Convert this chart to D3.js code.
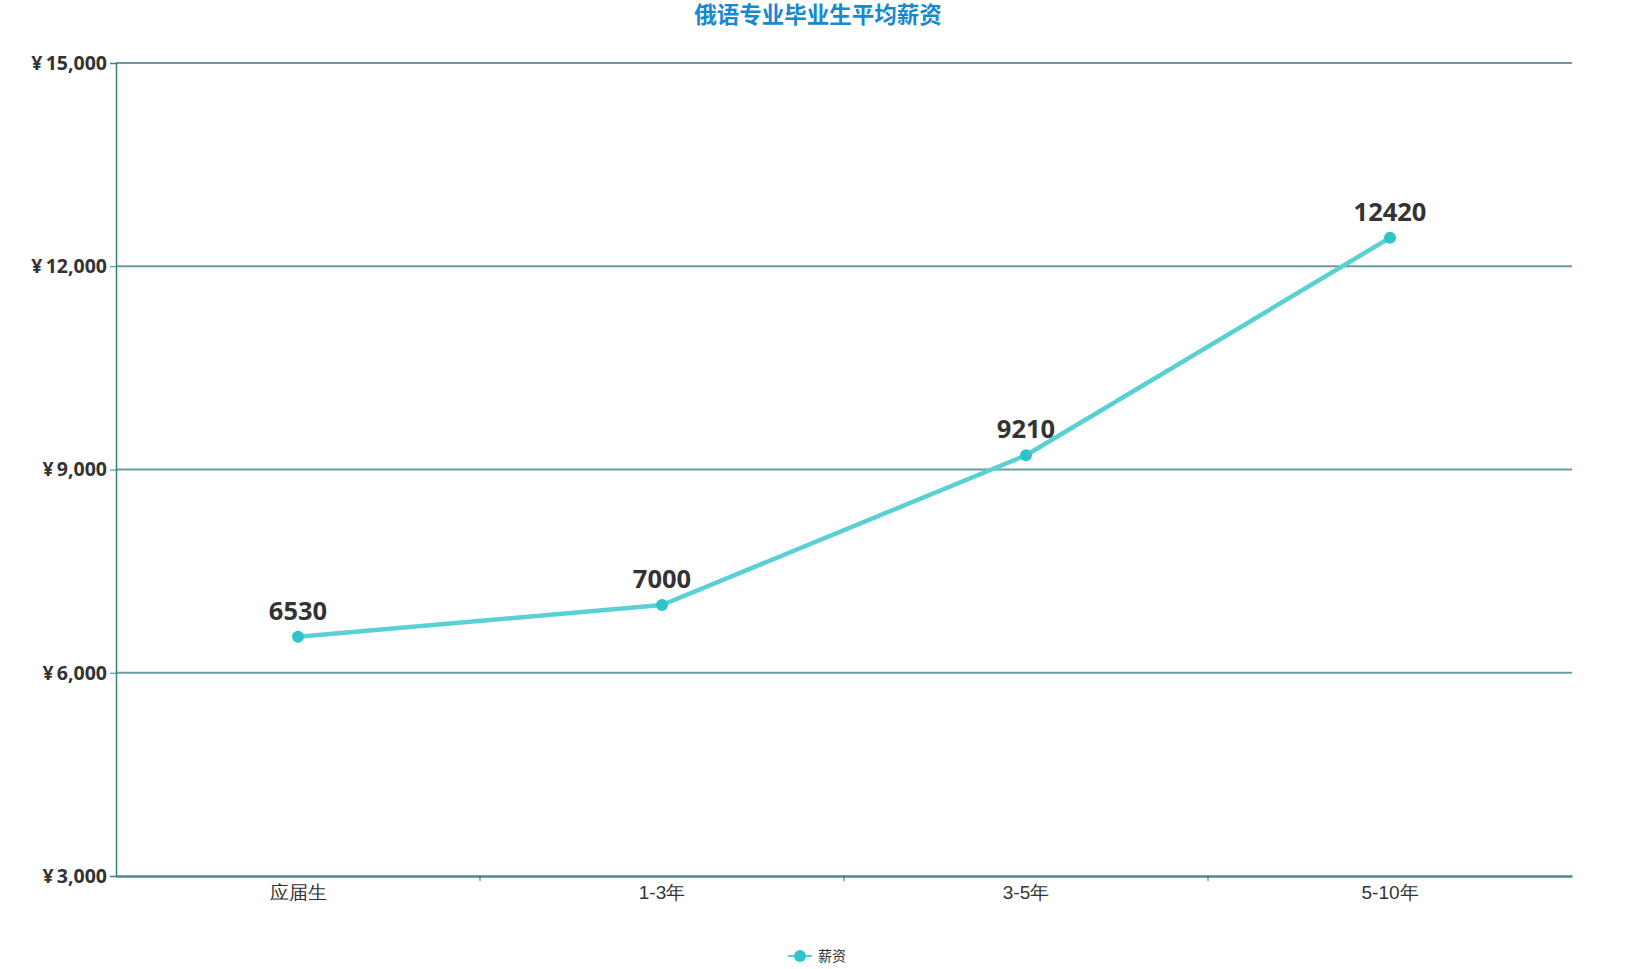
<!DOCTYPE html>
<html><head><meta charset="utf-8">
<script src="https://cdn.jsdelivr.net/npm/d3@7/dist/d3.min.js"></script>
<style>
html,body{margin:0;padding:0;background:#fff;}
svg{display:block;font-family:"Open Sans","Noto Sans CJK SC","Noto Sans",sans-serif;}
</style></head>
<body>
<svg id="chart" width="1635" height="969"></svg>
<script>
const title = "俄语专业毕业生平均薪资";
const categories = ["应届生", "1-3年", "3-5年", "5-10年"];
const salary = [6530, 7000, 9210, 12420];
const yTicks = [3000, 6000, 9000, 12000, 15000];
const seriesName = "薪资";

const W = 1635, H = 969;
const m = {left: 116, right: 63, top: 63, bottom: 93};
const svg = d3.select("#chart");

const x = d3.scaleBand().domain(categories).range([m.left, W - m.right]);
const y = d3.scaleLinear().domain([3000, 15000]).range([H - m.bottom, m.top]);

// title
svg.append("text").attr("x", 818).attr("y", 23)
  .attr("text-anchor", "middle").attr("font-size", 22.5).attr("font-weight", "bold")
  .attr("fill", "#1689d0").text(title);

// grid lines
svg.append("g").selectAll("line").data(yTicks.filter(d => d !== 3000)).join("line")
  .attr("x1", m.left).attr("x2", W - m.right)
  .attr("y1", d => y(d)).attr("y2", d => y(d))
  .attr("stroke", "#6a9ca3").attr("stroke-width", 2);

// y axis
const fmt = d3.format(",");
const yAxis = svg.append("g").attr("transform", `translate(${m.left},0)`)
  .call(d3.axisLeft(y).tickValues(yTicks).tickSize(6).tickPadding(3).tickFormat(d => "¥\u2009" + fmt(d)));
yAxis.select(".domain").attr("stroke", "#3f7b82").attr("stroke-width", 1.5);
yAxis.selectAll(".tick line").attr("stroke", "#3f7b82");
yAxis.selectAll(".tick text").attr("font-size", 19.5).attr("font-weight", "bold")
  .attr("fill", "#333").attr("font-family", "'Open Sans',sans-serif");

// x axis
const xAxis = svg.append("g").attr("transform", `translate(0,${H - m.bottom})`)
  .call(d3.axisBottom(x).tickSize(0).tickPadding(10));
xAxis.select(".domain").attr("stroke", "#4a8a8f").attr("stroke-width", 2.5);
xAxis.selectAll(".tick text").attr("font-size", 19).attr("fill", "#333");
// band boundary ticks
const bounds = categories.slice(1).map(c => x(c));
xAxis.append("g").selectAll("line").data(bounds).join("line")
  .attr("x1", d => d).attr("x2", d => d).attr("y1", 0).attr("y2", 5)
  .attr("stroke", "#555").attr("stroke-width", 1);

const cx = c => x(c) + x.bandwidth() / 2;
const pts = categories.map((c, i) => ({c, v: salary[i]}));

// line
svg.append("path").datum(pts)
  .attr("d", d3.line().x(d => cx(d.c)).y(d => y(d.v)))
  .attr("fill", "none").attr("stroke", "#59d0d3").attr("stroke-width", 4.5)
  .attr("stroke-linejoin", "round");

// points
svg.append("g").selectAll("circle").data(pts).join("circle")
  .attr("cx", d => cx(d.c)).attr("cy", d => y(d.v)).attr("r", 6)
  .attr("fill", "#2ec4c9");

// labels
svg.append("g").selectAll("text").data(pts).join("text")
  .attr("x", d => cx(d.c)).attr("y", d => y(d.v) - 17)
  .attr("text-anchor", "middle").attr("font-size", 25.5).attr("font-weight", "bold")
  .attr("fill", "#333").attr("font-family", "'Open Sans',sans-serif")
  .text(d => d.v);

// legend
const lg = svg.append("g").attr("transform", "translate(800,956)");
lg.append("line").attr("x1", -12).attr("x2", 12).attr("stroke", "#59d0d3").attr("stroke-width", 2);
lg.append("circle").attr("r", 6).attr("fill", "#2ec4c9");
lg.append("text").attr("x", 18).attr("dy", "0.35em").attr("font-size", 14)
  .attr("fill", "#333").text(seriesName);
</script>
</body></html>
